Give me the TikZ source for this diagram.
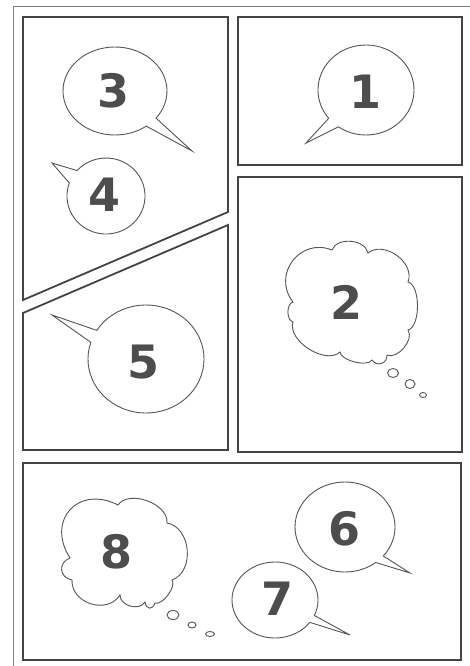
\documentclass[tikz,border=0pt]{standalone}
\usepackage{fontspec}
\newfontfamily\digitfont{DejaVu Sans}
\usetikzlibrary{calc}
\definecolor{panelc}{HTML}{444444}
\definecolor{balc}{HTML}{555555}
\definecolor{digc}{HTML}{4D4D4D}
\definecolor{framec}{HTML}{808080}
\tikzset{
  panel/.style={draw=panelc, line width=1.8pt, line join=miter},
  outerframe/.style={draw=framec, line width=1pt},
  balloon/.style={draw=balc, line width=0.9pt, fill=white, line join=miter},
  bubble/.style={draw=balc, line width=0.9pt, fill=white},
  digit/.style={text=digc, font=\digitfont\bfseries\fontsize{46}{50}\selectfont, inner sep=0pt},
  puff/.style={bend left=75, looseness=#1},
}
\begin{document}
\begin{tikzpicture}[x=1pt, y=-1pt]
\useasboundingbox (0,0) rectangle (470,666);
\fill[white] (0,0) rectangle (470,666);
% outer frame (partly outside the page)
\draw[outerframe] (13,672) -- (13,7) -- (476,7);
% panels
\draw[panel] (23,17) -- (228,17) -- (228,212) -- (23,300) -- cycle;
\draw[panel] (23,313) -- (228,225) -- (228,450) -- (23,450) -- cycle;
\draw[panel] (238,17) rectangle (462,165);
\draw[panel] (238,177) rectangle (462,452);
\draw[panel] (23,463) rectangle (461,660);
% balloon centres and tail tips
\coordinate (c3) at (115,91);  \coordinate (t3) at (192,151);
\coordinate (c4) at (106,196); \coordinate (t4) at (52,163);
\coordinate (c1) at (366,90);  \coordinate (t1) at (306,143);
\coordinate (c5) at (146,359); \coordinate (t5) at (52,315);
\coordinate (c6) at (345,527); \coordinate (t6) at (410,573);
\coordinate (c7) at (275,600); \coordinate (t7) at (350,635);
% speech balloons (angles in page orientation, y up)
\draw[balloon] ($(c3)+(-38:52pt and 44pt)$) arc[start angle=-38, end angle=307, x radius=52pt, y radius=44pt] -- (t3) -- cycle;
\node[digit] (n3) at (114,91) {3};
\draw[balloon] ($(c4)+(-200:39pt and 38pt)$) arc[start angle=-200, end angle=138, x radius=39pt, y radius=38pt] -- (t4) -- cycle;
\node[digit] (n4) at (105,195) {4};
\draw[balloon] ($(c1)+(-125:48pt and 45pt)$) arc[start angle=-125, end angle=219, x radius=48pt, y radius=45pt] -- (t1) -- cycle;
\node[digit] (n1) at (365,92) {1};
\draw[balloon] ($(c5)+(-198:58pt and 54pt)$) arc[start angle=-198, end angle=148, x radius=58pt, y radius=54pt] -- (t5) -- cycle;
\node[digit] (n5) at (144,362) {5};
\draw[balloon] ($(c6)+(-40:50pt and 45pt)$) arc[start angle=-40, end angle=308, x radius=50pt, y radius=45pt] -- (t6) -- cycle;
\node[digit] (n6) at (344,529) {6};
\draw[balloon] ($(c7)+(-24:43pt and 38pt)$) arc[start angle=-24, end angle=324, x radius=43pt, y radius=38pt] -- (t7) -- cycle;
\node[digit] (n7) at (277,599) {7};
% thought cloud 2
\draw[balloon] (293,302) to[puff=1.36] (332,250) to[puff=1.0] (368,253)
  to[puff=1.07] (408,282) to[puff=0.7] (408,330) to[puff=0.9] (387,355)
  to[puff=1.4] (372,360) to[puff=0.65] (340,352) to[puff=0.9] (293,322)
  to[puff=0.9] (293,302) -- cycle;
\node[digit] (n2) at (346,302) {2};
\draw[bubble] (393,373) ellipse[x radius=5.5pt, y radius=4.5pt];
\draw[bubble] (410,384) ellipse[x radius=5pt, y radius=4.5pt];
\draw[bubble] (423,395) ellipse[x radius=3.5pt, y radius=2.5pt];
% thought cloud 8
\draw[balloon] (70,558) to[puff=1.6] (118,505) to[puff=0.95] (167,523)
  to[puff=1.1] (172,580) to[puff=0.7] (155,603) to[puff=2.0] (145,602)
  to[puff=1.07] (120,595) to[puff=1.2] (72,580) to[puff=1.5] (70,558) -- cycle;
\node[digit] (n8) at (117,552) {8};
\draw[bubble] (173,615) ellipse[x radius=6pt, y radius=4.5pt];
\draw[bubble] (192,625) ellipse[x radius=4pt, y radius=3pt];
\draw[bubble] (210,634) ellipse[x radius=4.5pt, y radius=2.5pt];
\end{tikzpicture}
\end{document}
